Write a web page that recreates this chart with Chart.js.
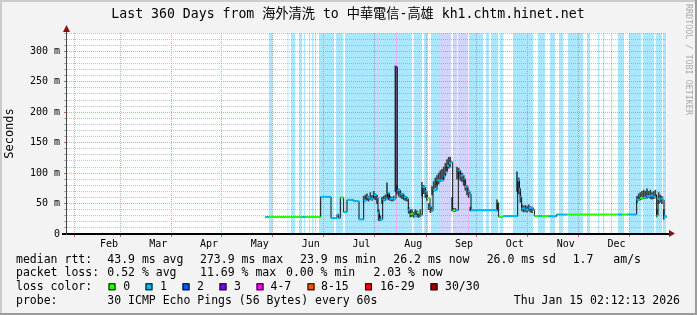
<!DOCTYPE html>
<html>
<head>
<meta charset="utf-8">
<script src="https://cdn.jsdelivr.net/npm/chart.js@4.4.1/dist/chart.umd.min.js"></script>
<style>
  html, body { margin: 0; padding: 0; background: #f3f3f3; }
</style>
</head>
<body>
<canvas id="c" width="697" height="315"></canvas>
<script>
// days counted from the left edge of the 360 day window
const yMax = 330;
const monthLabels = ['Feb', 'Mar', 'Apr', 'May', 'Jun', 'Jul', 'Aug', 'Sep', 'Oct', 'Nov', 'Dec'];
const monthStartDays = [11.2, 39.2, 70.2, 100.2, 131.2, 161.2, 192.2, 223.2, 253.2, 284.2, 314.2, 345.2];

// median rtt (ms), value holds until the next day entry; loss class per entry
const medianDays = [119, 121, 131, 136, 141, 143, 147, 150, 152.2, 158.4, 162, 163, 164, 166, 168, 172, 175.2,
  178, 180, 182, 184, 186, 186.6, 187.5, 189.4, 191, 192.4, 193.5, 197.4, 198.2, 200, 202, 204, 204.8, 206,
  208, 210, 212, 213.2, 215, 216, 217.8, 218.5, 219.6, 222, 226, 227, 228, 229.2, 230.4, 231.4, 233, 234.8,
  236, 238, 238.8, 240.6, 241.8, 242.4, 258.2, 259, 261.6, 270.4, 271.5, 272, 272.8, 275, 277, 279.8, 280.4,
  283, 285, 289, 293.8, 300, 330.5, 333, 336.5, 341.8, 343.8, 346, 347.8, 350, 352, 353.4, 353.8, 354.6, 356,
  357.6, 358.2, 360];
const medianVals = [28, 28, 28, 28, 28, 28, 28, 28, 61, 26, 32, 26, 60, 36, 56, 54, 24,
  55, 60, 58, 64, 60, 35, 24, 56, 58, 67, 58, 274, 72, 66, 61, 58, 40, 33,
  30, 35, 31, 77, 70, 59, 45, 38, 72, 88, 95, 101, 112, 116, 118, 39, 39, 104,
  96, 92, 78, 70, 66, 39, 52, 28, 29.5, 88, 75, 61, 42, 40, 43, 40, 29.5,
  29.5, 29.5, 29, 32, 32, 32, 32, 32, 56, 59, 60, 62, 63, 61, 64, 30, 57, 58,
  56, 29, 26];
const medianLoss = [1, 0, 0, 0, 1, 0, 0, 0, 1, 1, 1, 1, 0, 1, 1, 1, 1,
  1, 1, 1, 1, 1, 1, 1, 1, 1, 1, 1, 3, 1, 1, 1, 1, 1, 0,
  1, 0, 1, 1, 1, 0, 1, 1, 1, 1, 1, 1, 1, 1, 1, 0, 1, 1,
  1, 1, 1, 1, 1, 1, 0, 0, 1, 1, 1, 1, 1, 1, 1, 1, 0,
  1, 0, 1, 1, 0, 1, 0, 1, 1, 0, 1, 1, 1, 1, 1, 0, 1, 1,
  1, 1, 1];

// smoke (ping spread) per day, ms
const smokeDays = [178, 179, 180, 181, 182, 183, 184, 185, 186, 187, 188, 189, 190, 191, 192, 193, 194, 195, 196,
  197, 198, 199, 200, 201, 202, 203, 204, 205, 206, 207, 208, 209, 210, 211, 212, 213, 214, 215, 216, 217, 218,
  219, 220, 221, 222, 223, 224, 225, 226, 227, 228, 229, 230, 231, 232, 233, 234, 235, 236, 237, 238, 239, 240,
  241, 242, 258, 270, 271, 272, 273, 274, 275, 276, 277, 278, 279, 342, 343, 344, 345, 346, 347, 348, 349, 350,
  351, 352, 353, 354, 355, 356, 357, 358];
const smokeLo = [52, 55, 56, 54, 57, 55, 58, 56, 50, 22, 22, 50, 54, 55, 60, 56, 55, 54, 55,
  70, 66, 62, 60, 58, 56, 55, 54, 34, 28, 29, 27, 30, 28, 27, 29, 62, 66, 60, 55, 40, 35,
  64, 70, 76, 80, 82, 86, 88, 90, 96, 104, 108, 110, 38, 37, 37, 90, 92, 88, 86, 80, 72, 64,
  60, 38, 38, 70, 66, 52, 38, 36, 37, 36, 38, 36, 35, 52, 55, 56, 57, 58, 58, 59, 60, 58,
  57, 58, 59, 28, 50, 52, 50, 24];
const smokeHi = [62, 64, 66, 62, 68, 63, 70, 66, 64, 40, 30, 60, 62, 64, 84, 66, 62, 60, 62,
  276, 80, 74, 70, 66, 64, 62, 60, 44, 38, 40, 36, 40, 38, 36, 40, 85, 80, 74, 64, 50, 46,
  78, 86, 92, 96, 100, 104, 106, 110, 116, 122, 126, 126, 60, 42, 42, 110, 108, 104, 100, 96, 88, 80,
  72, 44, 56, 102, 92, 68, 48, 46, 47, 45, 48, 45, 44, 62, 66, 68, 70, 72, 70, 74, 70, 72,
  68, 70, 72, 40, 68, 64, 62, 40];

// loss background bands: start day, end day, loss class
const bandStart = [121, 132.2, 134.2, 139.2, 142, 145.2, 146.8, 148.6, 151.2, 161.4, 166.6, 186.6, 187.8, 197.4,
  198, 207.9, 214.2, 218.4, 223.8, 231.4, 234, 234.6, 240.6, 241.2, 251.4, 254.4, 259.8, 267.6, 282.6, 289.8,
  295.2, 300.6, 312, 318.6, 321.6, 326.4, 330.6, 337.2, 345.3, 353.1, 357.6];
const bandEnd = [123.4, 133, 137, 141, 143, 145.8, 148, 149.4, 160.4, 165.8, 186.6, 187.8, 197.4, 198,
  207, 213, 216.6, 223.8, 230.4, 234, 234.6, 240.6, 241.2, 249.6, 253.2, 258.9, 261.9, 279.6, 286.8, 292.8,
  297.9, 309.6, 313.8, 319.5, 322.5, 327, 334.2, 344.7, 352.5, 357, 359.4];
const bandLoss = [1, 1, 1, 1, 1, 1, 1, 1, 1, 1, 1, 2, 1, 4,
  1, 1, 1, 1, 2, 2, 1, 2, 4, 1, 1, 1, 1, 1, 1, 1,
  1, 1, 1, 1, 1, 1, 1, 1, 1, 1, 1];

const lossColors = ['#26ff00', '#00b8ff', '#0059ff', '#7e00ff', '#ff00ff', '#ff5500', '#ff0000', '#a10000'];
const lossLabels = ['0', '1', '2', '3', '4-7', '8-15', '16-29', '30/30'];
const bandColors = ['rgba(38,255,0,0.33)', 'rgba(0,184,255,0.33)', 'rgba(90,100,240,0.27)',
  'rgba(126,0,255,0.33)', 'rgba(215,0,255,0.33)'];

const rttStats = ['43.9 ms avg', '273.9 ms max', '23.9 ms min', '26.2 ms now', '26.0 ms sd', '1.7', 'am/s'];
const lossStats = ['0.52 % avg', '11.69 % max', '0.00 % min', '2.03 % now'];
const probeText = '30 ICMP Echo Pings (56 Bytes) every 60s';
const stampText = 'Thu Jan 15 02:12:13 2026';
const titleText = 'Last 360 Days from 海外清洗 to 中華電信-高雄 kh1.chtm.hinet.net';

const MONO = '"DejaVu Sans Mono", "Noto Sans CJK TC", monospace';
const majorGrid = '#e8a0a0';
const minorGrid = '#c4c4c4';

// x ticks: month starts carry grid lines, month middles carry labels
const xTicks = [];
monthStartDays.forEach((d, i) => {
  xTicks.push({ value: d, label: '', start: true });
  if (i < monthLabels.length) {
    xTicks.push({ value: (d + monthStartDays[i + 1]) / 2, label: monthLabels[i], start: false });
  }
});
const yTicks = [];
for (let v = 0; v <= yMax; v += 10) yTicks.push(v);

function bandPoints(cls) {
  const pts = [];
  bandStart.forEach((s, i) => {
    if (bandLoss[i] !== cls) return;
    pts.push({ x: s, y: yMax }, { x: bandEnd[i], y: yMax }, { x: bandEnd[i], y: null });
  });
  return pts;
}

const medianStep = medianDays.map((d, i) => ({ x: d, y: medianVals[i] }));
const medianPieces = [];
medianDays.slice(0, -1).forEach((d, i) => {
  medianPieces.push({ x: d, y: medianVals[i] }, { x: medianDays[i + 1], y: medianVals[i] },
    { x: medianDays[i + 1], y: null });
});

const bandSets = [1, 2, 4].map(cls => ({
  type: 'line',
  data: bandPoints(cls),
  fill: 'origin',
  backgroundColor: bandColors[cls],
  borderColor: 'transparent',
  borderWidth: 0,
  pointRadius: 0,
  order: 10
}));

const rrdDecor = {
  id: 'rrdDecor',
  beforeDraw(chart) {
    const { ctx, chartArea: a } = chart;
    const w = chart.width, h = chart.height;
    ctx.save();
    ctx.fillStyle = '#f3f3f3';
    ctx.fillRect(0, 0, w, h);
    ctx.fillStyle = '#cbcbcb';
    ctx.fillRect(0, 0, w, 2);
    ctx.fillRect(0, 0, 2, h);
    ctx.fillStyle = '#9b9b9b';
    ctx.fillRect(0, h - 2, w, 2);
    ctx.fillRect(w - 2, 0, 2, h);
    ctx.fillStyle = '#ffffff';
    ctx.fillRect(a.left, a.top, a.right - a.left, a.bottom - a.top);
    ctx.restore();
  },
  afterDraw(chart) {
    const { ctx, chartArea: a } = chart;
    ctx.save();
    // axes
    ctx.fillStyle = '#000';
    ctx.fillRect(62, a.bottom - 1, a.right - 62 + 2, 2);
    ctx.fillStyle = '#444';
    ctx.fillRect(a.left - 1, 28, 1, a.bottom - 28 + 1);
    ctx.fillStyle = '#8b1010';
    ctx.beginPath();
    ctx.moveTo(a.left - 4, 32); ctx.lineTo(a.left + 3, 32); ctx.lineTo(a.left - 0.5, 25);
    ctx.fill();
    ctx.beginPath();
    ctx.moveTo(a.right + 2, a.bottom - 4); ctx.lineTo(a.right + 2, a.bottom + 3); ctx.lineTo(a.right + 8, a.bottom - 0.5);
    ctx.fill();

    // title
    ctx.fillStyle = '#000';
    ctx.font = '13.2px ' + MONO;
    ctx.textAlign = 'center';
    ctx.textBaseline = 'middle';
    ctx.fillText(titleText, 348, 15);

    // vertical axis title
    ctx.save();
    ctx.translate(10, (a.top + a.bottom) / 2);
    ctx.rotate(-Math.PI / 2);
    ctx.font = '12px ' + MONO;
    ctx.fillText('Seconds', 0, 0);
    ctx.restore();

    // watermark
    ctx.save();
    ctx.translate(688.5, 4);
    ctx.rotate(Math.PI / 2);
    ctx.textAlign = 'left';
    ctx.fillStyle = '#aaaaaa';
    ctx.font = '8.4px ' + MONO;
    ctx.fillText('RRDTOOL / TOBI OETIKER', 0, 0);
    ctx.restore();

    // legend rows
    ctx.textAlign = 'left';
    ctx.font = '11.5px ' + MONO;
    ctx.fillStyle = '#000';
    const r1 = 259.7, r2 = 273.5, r3 = 287.3, r4 = 301;
    ctx.fillText('median rtt:', 16, r1);
    [107.3, 200, 300, 393.3, 486.7, 572.7, 613.3].forEach((x, i) => ctx.fillText(rttStats[i], x, r1));
    ctx.fillText('packet loss:', 16, r2);
    [107.3, 200, 286, 373.5].forEach((x, i) => ctx.fillText(lossStats[i], x, r2));
    ctx.fillText('loss color:', 16, r3);
    const sqX = [108.5, 145.5, 182.5, 219.5, 256.5, 307.5, 365, 430.5];
    const lbX = [123.3, 160, 197, 234, 270.5, 321, 380, 445];
    sqX.forEach((x, i) => {
      ctx.fillStyle = lossColors[i];
      ctx.fillRect(x, r3 - 4, 7, 7);
      ctx.strokeStyle = '#000';
      ctx.lineWidth = 1;
      ctx.strokeRect(x + 0.5, r3 - 3.5, 6, 6);
      ctx.fillStyle = '#000';
      ctx.fillText(lossLabels[i], lbX[i], r3);
    });
    ctx.fillText('probe:', 16, r4);
    ctx.fillText(probeText, 107.3, r4);
    ctx.textAlign = 'right';
    ctx.fillText(stampText, 680, r4);
    ctx.restore();
  }
};

new Chart(document.getElementById('c'), {
  type: 'line',
  data: {
    datasets: [
      {
        type: 'line',
        data: medianPieces,
        borderWidth: 2,
        borderCapStyle: 'butt',
        borderColor: lossColors[1],
        segment: {
          borderColor: c => lossColors[medianLoss[Math.floor(c.p0DataIndex / 3)]]
        },
        pointRadius: 0,
        fill: false,
        order: 1
      },
      {
        type: 'line',
        data: medianStep,
        stepped: true,
        borderWidth: 1,
        borderColor: '#111',
        pointRadius: 0,
        fill: false,
        order: 3
      },
      {
        type: 'bar',
        data: smokeDays.map((d, i) => ({ x: d, y: [smokeLo[i], smokeHi[i]] })),
        backgroundColor: 'rgba(25,25,25,0.8)',
        borderWidth: 0,
        barThickness: 1,
        order: 5
      },
      ...bandSets
    ]
  },
  options: {
    responsive: false,
    animation: false,
    events: [],
    layout: { padding: { top: 33, right: 30, left: 0, bottom: 0 } },
    plugins: {
      legend: { display: false },
      tooltip: { enabled: false },
      title: { display: false }
    },
    scales: {
      x: {
        type: 'linear',
        min: 0,
        max: 360,
        offset: false,
        afterBuildTicks: s => { s.ticks = xTicks.map(t => ({ value: t.value })); },
        afterFit: s => { s.height = 81; },
        ticks: {
          autoSkip: false,
          maxRotation: 0,
          minRotation: 0,
          padding: 1,
          color: '#000',
          font: { family: MONO, size: 10 },
          callback: (v, i) => xTicks[i] ? xTicks[i].label : ''
        },
        grid: {
          color: c => (c.tick && xTicks[c.index] && xTicks[c.index].start) ? majorGrid : 'transparent',
          tickColor: c => (c.tick && xTicks[c.index] && xTicks[c.index].start) ? '#d06060' : 'transparent',
          tickLength: 3,
          lineWidth: 1
        },
        border: { display: false, dash: [1, 1] }
      },
      y: {
        type: 'linear',
        min: 0,
        max: yMax,
        afterBuildTicks: s => { s.ticks = yTicks.map(v => ({ value: v })); },
        afterFit: s => { s.width = 67; },
        ticks: {
          autoSkip: false,
          padding: 4,
          color: '#000',
          font: { family: MONO, size: 10 },
          callback: v => v % 50 === 0 ? (v === 0 ? '0' : v + ' m') : ''
        },
        grid: {
          color: c => (c.tick && c.tick.value % 50 === 0) ? majorGrid : minorGrid,
          tickColor: c => (c.tick && c.tick.value % 50 === 0) ? '#d06060' : '#b0b0b0',
          tickLength: 3,
          lineWidth: 1
        },
        border: { display: false, dash: [1, 1] }
      }
    }
  },
  plugins: [rrdDecor]
});
</script>
</body>
</html>
